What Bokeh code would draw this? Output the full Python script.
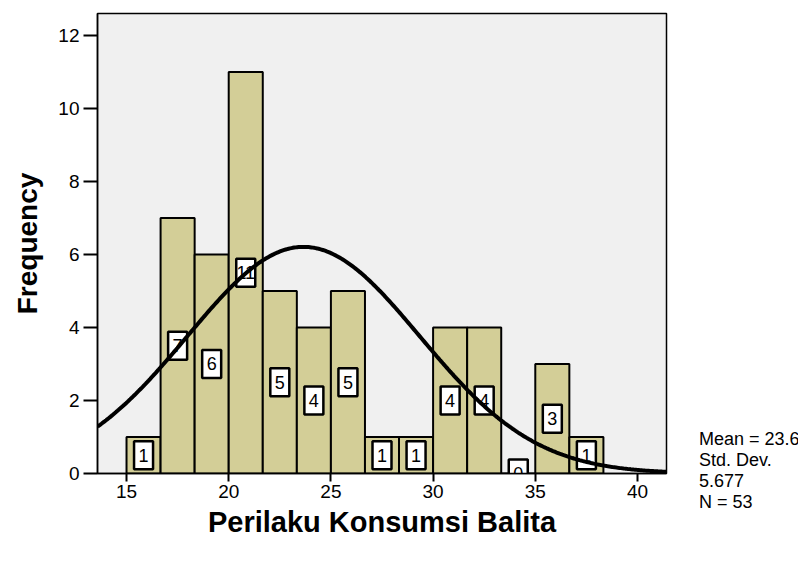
import numpy as np
from bokeh.plotting import figure
from bokeh.models import Range1d, FixedTicker, Legend, LegendItem, ColumnDataSource
from bokeh.core.properties import value
from bokeh.embed import file_html
from bokeh.resources import INLINE

# ---- data ----
counts = [1, 7, 6, 11, 5, 4, 5, 1, 1, 4, 4, 0, 3, 1]
bin_start = 15.0
bin_width = 5.0 / 3.0
mean_val = 23.66
std_dev = 5.677
n_total = 53
x_ticks = [15, 20, 25, 30, 35, 40]
y_ticks = [0, 2, 4, 6, 8, 10, 12]
stats_lines = ["Mean = 23.66", "Std. Dev.", "5.677", "N = 53"]
x_title = "Perilaku Konsumsi Balita"
y_title = "Frequency"

FONT = "Liberation Sans"
X0, X1 = 13.58, 41.42

lefts = [bin_start + i * bin_width for i in range(len(counts))]
rights = [l + bin_width for l in lefts]
centers = [l + bin_width / 2 for l in lefts]
bars = ColumnDataSource(dict(left=lefts, right=rights, top=counts,
                             xc=centers, yc=[c / 2 for c in counts],
                             lab=[str(c) for c in counts]))

p = figure(frame_width=569, frame_height=460, output_backend="svg",
           toolbar_location=None,
           x_range=Range1d(X0, X1), y_range=Range1d(0, 12.6),
           min_border_left=97, min_border_top=13, min_border_right=124,
           min_border_bottom=60)
p.background_fill_color = "#f0f0f0"
p.border_fill_color = "white"
p.outline_line_color = "black"
p.outline_line_width = 1.5
p.xgrid.visible = False
p.ygrid.visible = False

p.quad(left="left", right="right", top="top", bottom=0, source=bars,
       fill_color="#d3ce97", line_color="black", line_width=2)

p.rect(x="xc", y="yc", width=19, height=28, width_units="screen",
       height_units="screen", source=bars, fill_color="white",
       line_color="black", line_width=2.5)
p.text(x="xc", y="yc", text="lab", source=bars, text_align="center",
       text_baseline="middle", text_font_size="18px", text_color="black",
       text_font=value(FONT))

xs = np.linspace(X0, X1, 400)
ys = n_total * bin_width / (std_dev * np.sqrt(2 * np.pi)) * np.exp(-((xs - mean_val) ** 2) / (2 * std_dev ** 2))
p.line(xs, ys, line_color="black", line_width=4)

for ax, ticks in ((p.xaxis, x_ticks), (p.yaxis, y_ticks)):
    ax.ticker = FixedTicker(ticks=ticks)
    ax.minor_tick_line_color = None
    ax.major_tick_in = 0
    ax.axis_line_color = "black"
    ax.axis_line_width = 1.5
    ax.major_tick_line_color = "black"
    ax.major_tick_line_width = 2
    ax.major_label_text_font = FONT
    ax.major_label_text_font_size = "19px"
    ax.major_label_text_color = "black"
    ax.axis_label_text_font = FONT
    ax.axis_label_text_font_style = "bold"
    ax.axis_label_text_color = "black"

p.xaxis.major_tick_out = 8
p.xaxis.major_label_standoff = 3
p.xaxis.axis_label = x_title
p.xaxis.axis_label_standoff = 5
p.xaxis.axis_label_text_font_size = "29px"
p.yaxis.major_tick_out = 14
p.yaxis.major_label_standoff = 4
p.yaxis.axis_label = y_title
p.yaxis.axis_label_standoff = 12
p.yaxis.axis_label_text_font_size = "28px"

# statistics box: legend with invisible glyphs, outside the frame on the right
dummy = p.scatter([], [], alpha=0)
items = [LegendItem(label=t, renderers=[dummy]) for t in stats_lines]
leg = Legend(items=items, location=(33, -40), glyph_width=0, glyph_height=18,
             label_height=18, label_standoff=0, spacing=0, padding=0, margin=0,
             border_line_color=None, background_fill_alpha=0,
             label_text_font=FONT, label_text_font_size="18px",
             label_text_color="black")
p.add_layout(leg, "right")

open("out.html", "w").write(file_html(p, INLINE))
